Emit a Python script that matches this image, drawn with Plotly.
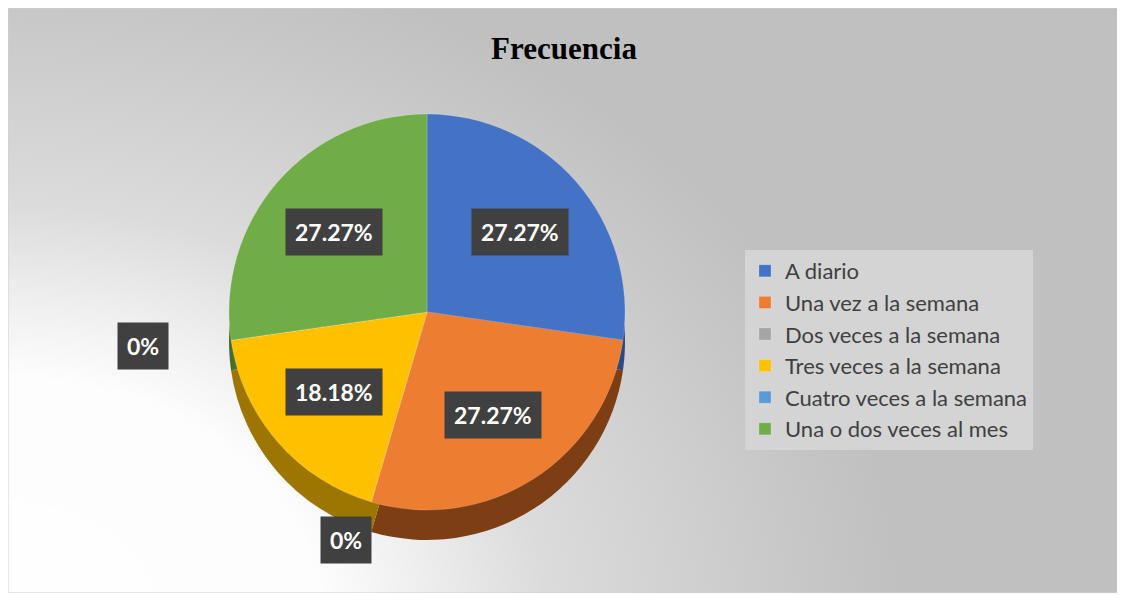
import zlib, struct, base64, math
import numpy as np
import plotly.graph_objects as go

# ---- data ----
categories = ["A diario", "Una vez a la semana", "Dos veces a la semana",
              "Tres veces a la semana", "Cuatro veces a la semana", "Una o dos veces al mes"]
counts = [3, 3, 0, 2, 0, 3]
percent_labels = ["27.27%", "27.27%", "0%", "18.18%", "0%", "27.27%"]
colors = ["#4472C4", "#ED7D31", "#A5A5A5", "#FFC000", "#5B9BD5", "#70AD47"]
side_colors = ["#2B4A82", "#7E3E14", "#606060", "#9C7600", "#36628A", "#456E2B"]

# page has an 8px body margin; figure placed at (8, 8)
OFF = 8
W, H = 1112, 585

# ---- background gradient image ----
def make_png(arr):
    h, w, _ = arr.shape
    raw = b"".join(b"\x00" + arr[i].tobytes() for i in range(h))
    def chunk(t, d):
        return struct.pack(">I", len(d)) + t + d + struct.pack(">I", zlib.crc32(t + d) & 0xffffffff)
    return (b"\x89PNG\r\n\x1a\n" + chunk(b"IHDR", struct.pack(">IIBBBBB", w, h, 8, 2, 0, 0, 0))
            + chunk(b"IDAT", zlib.compress(raw, 9)) + chunk(b"IEND", b""))

sc = 4
gw, gh = W // sc, H // sc
yy, xx = np.mgrid[0:gh, 0:gw]
px = xx * sc + OFF
py = yy * sc + OFF
d = np.hypot(px / 1.3, py - 620)
val = np.interp(d, [0, 250, 320, 420, 614, 700], [255, 253, 240, 220, 200, 192])
val = np.clip(val, 0, 255).astype(np.uint8)
img = np.stack([val, val, val], axis=-1)
uri = "data:image/png;base64," + base64.b64encode(make_png(img)).decode()

def to_paper(x, y):
    return (x - OFF) / W, 1 - (y - OFF) / H

# pie geometry (screen pixels)
CX, CY, R = 427, 312, 198
DEPTH = 30

def domain(cx, cy, r):
    x0, y1 = to_paper(cx - r, cy - r)
    x1, y0 = to_paper(cx + r, cy + r)
    return dict(x=[x0, x1], y=[y0, y1])

fig = go.Figure()
# side (depth) of the pie
fig.add_trace(go.Pie(
    labels=categories, values=counts, sort=False, direction="clockwise", rotation=0,
    marker=dict(colors=side_colors, line=dict(width=0)),
    textinfo="none", hoverinfo="skip", showlegend=False,
    domain=domain(CX, CY + DEPTH, R),
))
# top face
fig.add_trace(go.Pie(
    labels=categories, values=counts, sort=False, direction="clockwise", rotation=0,
    marker=dict(colors=colors, line=dict(width=0.5, color="rgba(255,255,255,0.35)")),
    textinfo="none", showlegend=True,
    domain=domain(CX, CY, R),
))

# data labels computed from the values
total = sum(counts)
cum = 0
annotations = []
for v, lab in zip(counts, percent_labels):
    mid = (cum + v / 2) / total * 2 * math.pi
    cum += v
    if v > 0:
        lx = CX + 0.62 * R * math.sin(mid)
        ly = CY - 0.62 * R * math.cos(mid)
    else:
        lx = CX + 1.45 * R * math.sin(mid)
        ly = CY - 1.2 * R * math.cos(mid)
    xp, yp = to_paper(lx, ly)
    annotations.append(dict(
        x=xp, y=yp, xref="paper", yref="paper", xanchor="center", yanchor="middle",
        text="<b>%s</b>" % lab, showarrow=False,
        font=dict(family="Lato, Open Sans, sans-serif", size=23, color="white"),
        bgcolor="#404040", borderpad=9,
    ))

lx0, ly0 = to_paper(745, 350)
fig.update_layout(
    width=W, height=H,
    margin=dict(l=0, r=0, t=0, b=0),
    paper_bgcolor="white", plot_bgcolor="rgba(0,0,0,0)",
    images=[dict(source=uri, xref="paper", yref="paper", x=0, y=1, sizex=1, sizey=1,
                 xanchor="left", yanchor="top", sizing="stretch", layer="below")],
    title=dict(text="<b>Frecuencia</b>", x=0.5, xanchor="center",
               y=to_paper(0, 48)[1], yanchor="middle",
               font=dict(family="Liberation Serif, Times New Roman, serif", size=31, color="black")),
    legend=dict(x=lx0, y=ly0, xanchor="left", yanchor="middle",
                bgcolor="#D4D4D4", font=dict(family="Lato, Open Sans, sans-serif", size=22, color="#404040"),
                itemwidth=30),
    annotations=annotations,
    shapes=[dict(type="rect", xref="paper", yref="paper", x0=0, y0=0, x1=1, y1=1,
                 line=dict(color="#D0D0D0", width=1), fillcolor="rgba(0,0,0,0)")],
)

fig.write_html("out.html")
